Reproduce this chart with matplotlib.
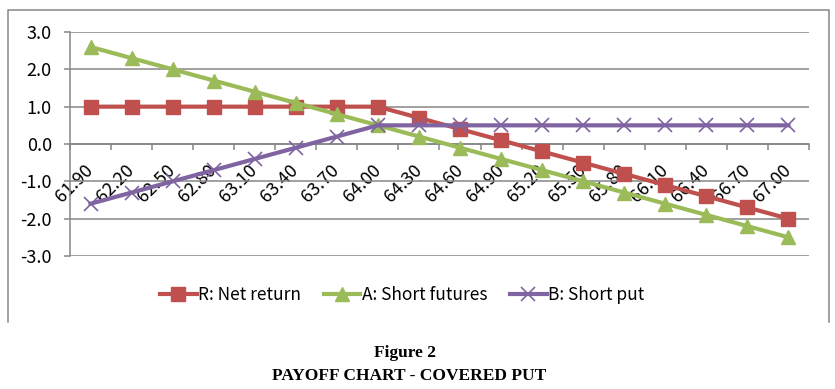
import matplotlib.pyplot as plt
from matplotlib.lines import Line2D
from matplotlib.ticker import FixedLocator, FormatStrFormatter

# price levels on the x axis
prices = ["61.90", "62.20", "62.50", "62.80", "63.10", "63.40", "63.70", "64.00", "64.30",
          "64.60", "64.90", "65.20", "65.50", "65.80", "66.10", "66.40", "66.70", "67.00"]

net_return = [1.0, 1.0, 1.0, 1.0, 1.0, 1.0, 1.0, 1.0, 0.7,
              0.4, 0.1, -0.2, -0.5, -0.8, -1.1, -1.4, -1.7, -2.0]
short_futures = [2.6, 2.3, 2.0, 1.7, 1.4, 1.1, 0.8, 0.5, 0.2,
                 -0.1, -0.4, -0.7, -1.0, -1.3, -1.6, -1.9, -2.2, -2.5]
short_put = [-1.6, -1.3, -1.0, -0.7, -0.4, -0.1, 0.2, 0.5, 0.5,
             0.5, 0.5, 0.5, 0.5, 0.5, 0.5, 0.5, 0.5, 0.5]

labels = ["R: Net return", "A: Short futures", "B: Short put"]
colors = ["#C0504D", "#9BBB59", "#8064A2"]

plt.rcParams['font.family'] = ['Noto Sans CJK KR', 'DejaVu Sans']
grey = "#868686"

fig = plt.figure(figsize=(8.35, 3.89), dpi=100)
ax = fig.add_axes([70/835, 1-256/389, (809-70)/835, (256-32)/389])

x = list(range(len(prices)))
ax.plot(x, net_return, color=colors[0], lw=3, marker='s', ms=9.5, label=labels[0], zorder=3)
ax.plot(x, short_futures, color=colors[1], lw=3, marker='^', ms=10.5, label=labels[1], zorder=3)
ax.plot(x, short_put, color=colors[2], lw=3, marker='x', ms=9.5, mew=1.2, label=labels[2], zorder=3)

ax.set_xlim(-0.5, len(prices) - 0.5)
ax.set_ylim(-3, 3)
ax.set_yticks([-3, -2, -1, 0, 1, 2, 3])
ax.yaxis.set_major_formatter(FormatStrFormatter('%.1f'))
ax.grid(axis='y', color=grey, lw=1.1)
ax.set_axisbelow(True)

for s in ['top', 'right']:
    ax.spines[s].set_visible(False)
ax.spines['left'].set_color(grey)
ax.spines['left'].set_linewidth(1.1)
ax.spines['bottom'].set_position(('data', 0))
ax.spines['bottom'].set_color(grey)
ax.spines['bottom'].set_linewidth(1.1)

ax.set_xticks(x)
ax.set_xticklabels(prices)
ax.xaxis.set_minor_locator(FixedLocator([i - 0.5 for i in range(len(prices) + 1)]))
ax.tick_params(axis='x', which='major', length=0, pad=17, labelsize=13)
ax.tick_params(axis='x', which='minor', length=4, color=grey, width=1.1)
ax.tick_params(axis='y', length=4, color=grey, width=1.1, labelsize=13, pad=9)
for t in ax.get_xticklabels():
    t.set_rotation(45)
    t.set_ha('right')
    t.set_va('center')
    t.set_rotation_mode('anchor')

fig.legend(loc='center', bbox_to_anchor=(0.482, 1-295/389), ncol=3, frameon=False,
           fontsize=12.5, handlelength=2.1, handletextpad=0.1, columnspacing=1.3)

# outer chart frame (left, top, right)
fx = [8/835, 8/835, 829/835, 829/835]
fy = [1-322/389, 1-10/389, 1-10/389, 1-322/389]
fig.add_artist(Line2D(fx, fy, transform=fig.transFigure, color=grey, lw=1.1))

fig.text(0.485, 1-353/389, "Figure 2", ha='center', va='center',
         family='Liberation Serif', weight='bold', fontsize=12.5)
fig.text(0.49, 1-376/389, "PAYOFF CHART - COVERED PUT", ha='center', va='center',
         family='Liberation Serif', weight='bold', fontsize=12.5)

fig.savefig("out.png", dpi=100)
